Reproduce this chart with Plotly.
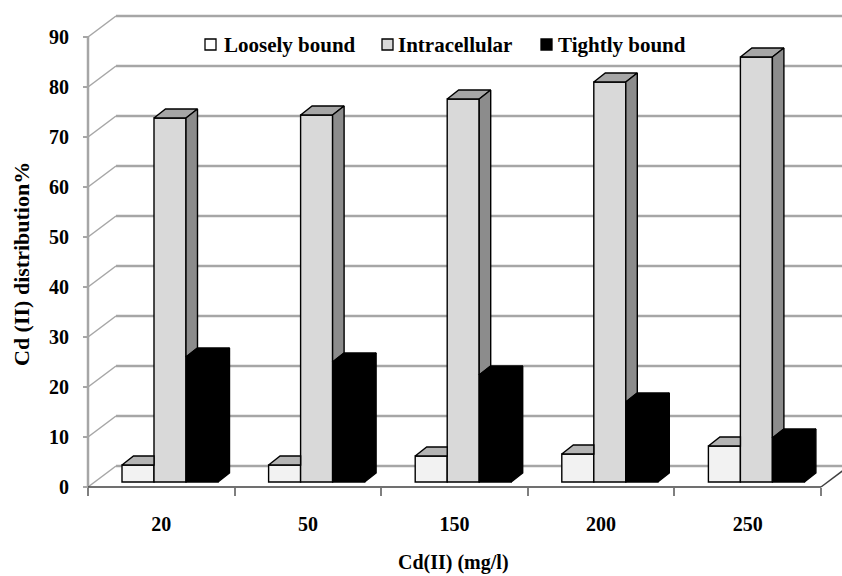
import plotly.graph_objects as go

# ---- data -------------------------------------------------------------
concentrations = ["20", "50", "150", "200", "250"]          # Cd(II) (mg/l)
series_names = ["Loosely bound", "Intracellular", "Tightly bound"]
loosely_bound = [3.4, 3.4, 5.2, 5.6, 7.2]
intracellular = [72.8, 73.4, 76.6, 80.0, 85.0]
tightly_bound = [25.0, 24.0, 21.4, 16.0, 8.8]
y_ticks = [0, 10, 20, 30, 40, 50, 60, 70, 80, 90]

series_values = [loosely_bound, intracellular, tightly_bound]

# ---- styling ----------------------------------------------------------
front_colors = ["#f2f2f2", "#d9d9d9", "#000000"]
top_colors = ["#b4b4b4", "#a6a6a6", "#000000"]
side_colors = ["#8c8c8c", "#8c8c8c", "#000000"]
legend_colors = ["#ffffff", "#d9d9d9", "#000000"]
GRID = "#a6a6a6"
EDGE = "#404040"
FONT = "Liberation Serif"

W, H = 842, 576
# pixel geometry of the front plane: left/bottom corner and scale
X0_PX, Y0_PX = 88, 487
PX_PER_CAT = 146.6
PX_PER_PCT = 5.0

x_range = [-0.5 - X0_PX / PX_PER_CAT, -0.5 + (W - X0_PX) / PX_PER_CAT]
y_range = [-(H - Y0_PX) / PX_PER_PCT, Y0_PX / PX_PER_PCT]

# oblique depth offsets (data units)
WALL_DX, WALL_DY = 28 / PX_PER_CAT, 21 / PX_PER_PCT     # full floor depth
BAR_BASE = 5 / PX_PER_PCT                               # bar front plane
BAR_DX, BAR_DY = 11.5 / PX_PER_CAT, 9 / PX_PER_PCT      # bar thickness
BAR_W = 32 / PX_PER_CAT
CLUSTER_SHIFT = 8.7 / PX_PER_CAT


def px(xp):
    return xp / W


def py(yp):
    return 1 - yp / H


fig = go.Figure()

# ---- walls, floor and gridlines --------------------------------------
shapes = []
x_left = -0.5
x_right = len(concentrations) - 0.5
for v in y_ticks:
    # back wall gridline
    shapes.append(dict(type="line", layer="below", xref="x", yref="y",
                       x0=x_left + WALL_DX, y0=v + WALL_DY,
                       x1=x_range[1] + 1, y1=v + WALL_DY,
                       line=dict(color=GRID, width=2.5)))
    # side wall diagonal
    shapes.append(dict(type="line", layer="below", xref="x", yref="y",
                       x0=x_left, y0=v, x1=x_left + WALL_DX, y1=v + WALL_DY,
                       line=dict(color=GRID, width=1.5)))
# value axis line
shapes.append(dict(type="line", layer="below", xref="x", yref="y",
                   x0=x_left, y0=0, x1=x_left, y1=y_ticks[-1],
                   line=dict(color=GRID, width=2.5)))
# floor front and right edges
shapes.append(dict(type="line", layer="below", xref="x", yref="y",
                   x0=x_left, y0=0, x1=x_right, y1=0,
                   line=dict(color=EDGE, width=1.5)))
shapes.append(dict(type="line", layer="below", xref="x", yref="y",
                   x0=x_right, y0=0, x1=x_right + WALL_DX, y1=WALL_DY,
                   line=dict(color=EDGE, width=1.5)))

# ---- bars: front faces -----------------------------------------------
cats = list(range(len(concentrations)))
for s, vals in enumerate(series_values):
    centers = [i + CLUSTER_SHIFT + (s - 1) * BAR_W for i in cats]
    fig.add_trace(go.Bar(
        x=centers, y=vals, base=BAR_BASE, width=BAR_W, name=series_names[s],
        marker=dict(color=front_colors[s], line=dict(color="black", width=1.4)),
        showlegend=False, hoverinfo="skip"))


def polygon(points, fill):
    xs = [p[0] for p in points] + [points[0][0]]
    ys = [p[1] for p in points] + [points[0][1]]
    fig.add_trace(go.Scatter(
        x=xs, y=ys, mode="lines", fill="toself", fillcolor=fill,
        line=dict(color="black", width=1.4), showlegend=False,
        hoverinfo="skip"))


# ---- bars: top and side faces ----------------------------------------
for i in cats:
    for s, vals in enumerate(series_values):
        v = vals[i]
        c = i + CLUSTER_SHIFT + (s - 1) * BAR_W
        xa, xb = c - BAR_W / 2, c + BAR_W / 2
        top = BAR_BASE + v
        nxt = series_values[s + 1][i] if s + 1 < len(series_values) else 0.0
        if nxt >= v:
            # neighbour in front of the right part hides the side face
            polygon([(xa, top), (xb, top), (xb, top + BAR_DY),
                     (xa + BAR_DX, top + BAR_DY)], top_colors[s])
        else:
            polygon([(xa, top), (xb, top), (xb + BAR_DX, top + BAR_DY),
                     (xa + BAR_DX, top + BAR_DY)], top_colors[s])
            sb = BAR_BASE + nxt
            polygon([(xb, sb), (xb, top), (xb + BAR_DX, top + BAR_DY),
                     (xb + BAR_DX, sb + BAR_DY)], side_colors[s])

# ---- legend ----------------------------------------------------------
annotations = []
legend_items = [(205, 222), (382, 396), (541, 556)]
for (mx, tx), name, col in zip(legend_items, series_names, legend_colors):
    shapes.append(dict(type="rect", xref="paper", yref="paper",
                       x0=px(mx), x1=px(mx + 11), y0=py(39), y1=py(50),
                       fillcolor=col, line=dict(color="black", width=1.3)))
    annotations.append(dict(text=name, xref="paper", yref="paper",
                            x=px(tx), y=py(45), xanchor="left",
                            yanchor="middle", showarrow=False,
                            font=dict(family=FONT, size=21, color="black",
                                      weight="bold")))

# axis titles
annotations.append(dict(text="Cd (II) distribution%", xref="paper",
                        yref="paper", x=px(22), y=py(264), textangle=-90,
                        showarrow=False, xanchor="center", yanchor="middle",
                        font=dict(family=FONT, size=22, color="black",
                                  weight="bold")))
annotations.append(dict(text="Cd(II) (mg/l)", xref="paper", yref="paper",
                        x=px(453), y=py(562), showarrow=False,
                        xanchor="center", yanchor="middle",
                        font=dict(family=FONT, size=20, color="black",
                                  weight="bold")))

tick_font = dict(family=FONT, size=20, color="black", weight="bold")

fig.update_layout(
    width=W, height=H,
    margin=dict(l=0, r=0, t=0, b=0, pad=0, autoexpand=False),
    paper_bgcolor="white", plot_bgcolor="white",
    barmode="overlay", showlegend=False,
    shapes=shapes, annotations=annotations,
    xaxis=dict(range=x_range, anchor="free", position=(H - Y0_PX) / H,
               tickmode="array", tickvals=cats, ticktext=concentrations,
               ticks="", showgrid=False, zeroline=False, showline=False,
               tickfont=tick_font, ticklabelstandoff=23,
               minor=dict(tickmode="array",
                          tickvals=[i - 0.5 for i in range(len(cats) + 1)],
                          ticks="outside", ticklen=8, tickwidth=1.5,
                          tickcolor="#7f7f7f", showgrid=False)),
    yaxis=dict(range=y_range, anchor="free", position=X0_PX / W,
               tickmode="array", tickvals=y_ticks, ticks="outside",
               ticklen=5, tickwidth=2, tickcolor=GRID, showgrid=False,
               zeroline=False, showline=False, tickfont=tick_font,
               ticklabelstandoff=10),
)

fig.write_html("out.html")
